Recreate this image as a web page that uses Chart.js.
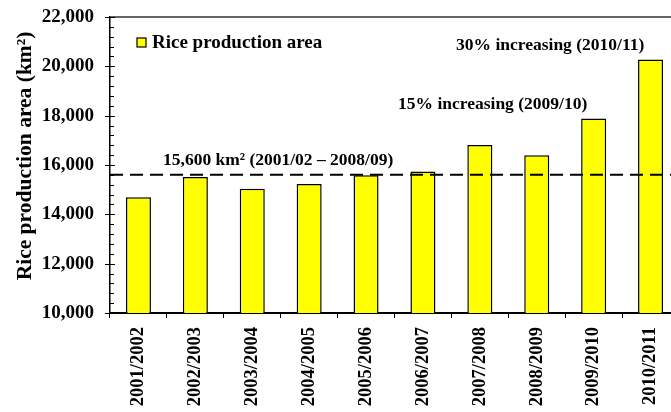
<!DOCTYPE html>
<html>
<head>
<meta charset="utf-8">
<script src="https://cdn.jsdelivr.net/npm/chart.js@4/dist/chart.umd.min.js"></script>
<style>
  html, body { margin: 0; padding: 0; background: #fff; overflow: hidden; }
  #wrap { width: 671px; height: 412px; overflow: hidden; }
  canvas { display: block; }
</style>
</head>
<body>
<div id="wrap"><canvas id="c" width="690" height="412"></canvas></div>
<script>
// Rice production area per season (km²)
const seasons = ['2001/2002', '2002/2003', '2003/2004', '2004/2005', '2005/2006',
                 '2006/2007', '2007/2008', '2008/2009', '2009/2010', '2010/2011'];
const riceArea = [14690, 15510, 15040, 15230, 15580, 15740, 16810, 16400, 17890, 20280];
const seriesName = 'Rice production area';

// Reference level: mean area 2001/02 – 2008/09
const baselineValue = 15600;
const baselineLabel = '15,600 km\u00B2 (2001/02 \u2013 2008/09)';
const notes = ['15% increasing (2009/10)', '30% increasing (2010/11)'];

// Y axis range and ticks
const yMin = 10000, yMax = 22000, yStep = 2000, yMinorStep = 400;
const yTitle = 'Rice production area (km\u00B2)';

const FONT = '"Liberation Serif", "Times New Roman", serif';

const decorations = {
  id: 'decorations',
  afterDatasetsDraw(chart) {
    const { ctx, chartArea: ca, scales: { y } } = chart;
    ctx.save();

    // top frame line
    ctx.strokeStyle = '#333';
    ctx.lineWidth = 1.5;
    ctx.beginPath();
    ctx.moveTo(ca.left, ca.top);
    ctx.lineTo(chart.width, ca.top);
    ctx.stroke();

    // y axis tick marks: majors cross the axis, minors point inward
    ctx.strokeStyle = '#000';
    ctx.lineWidth = 1;
    for (let v = yMin; v <= yMax; v += yMinorStep) {
      const py = Math.round(y.getPixelForValue(v)) + 0.5;
      const major = (v - yMin) % yStep === 0;
      ctx.beginPath();
      ctx.moveTo(major ? ca.left - 5 : ca.left, py);
      ctx.lineTo(ca.left + (major ? 5 : 4), py);
      ctx.stroke();
    }

    // dashed reference line
    const by = y.getPixelForValue(baselineValue);
    ctx.strokeStyle = '#000';
    ctx.lineWidth = 2;
    ctx.setLineDash([13, 7]);
    ctx.beginPath();
    ctx.moveTo(ca.left, by);
    ctx.lineTo(chart.width, by);
    ctx.stroke();
    ctx.setLineDash([]);

    // annotations
    ctx.fillStyle = '#000';
    ctx.font = 'bold 17.5px ' + FONT;
    ctx.textAlign = 'left';
    ctx.textBaseline = 'alphabetic';
    ctx.fillText(baselineLabel, ca.left + 53, by - 10);
    ctx.fillText(notes[0], ca.left + 288, ca.top + 92);
    ctx.fillText(notes[1], ca.left + 346, ca.top + 33);

    // legend
    const lx = ca.left + 27, ly = ca.top + 21;
    ctx.fillStyle = '#ffff00';
    ctx.fillRect(lx, ly, 9, 9);
    ctx.strokeStyle = '#000';
    ctx.lineWidth = 1.2;
    ctx.strokeRect(lx, ly, 9, 9);
    ctx.fillStyle = '#000';
    ctx.font = 'bold 19px ' + FONT;
    ctx.textBaseline = 'middle';
    ctx.fillText(chart.data.datasets[0].label, lx + 15, ly + 5);

    // y axis title
    ctx.save();
    ctx.translate(25, (ca.top + ca.bottom) / 2 - 9);
    ctx.rotate(-Math.PI / 2);
    ctx.textAlign = 'center';
    ctx.textBaseline = 'middle';
    ctx.font = 'bold 21.5px ' + FONT;
    ctx.fillText(yTitle, 0, 0);
    ctx.restore();

    ctx.restore();
  }
};

new Chart(document.getElementById('c'), {
  type: 'bar',
  data: {
    labels: seasons,
    datasets: [{
      label: seriesName,
      data: riceArea,
      backgroundColor: '#ffff00',
      borderColor: '#000',
      borderWidth: 1.5,
      barPercentage: 0.44,
      categoryPercentage: 1.0
    }]
  },
  options: {
    responsive: false,
    animation: false,
    events: [],
    layout: { padding: { top: 17, right: 11, left: 0, bottom: 0 } },
    plugins: { legend: { display: false }, tooltip: { enabled: false } },
    scales: {
      x: {
        grid: { display: true, drawOnChartArea: false, drawTicks: true, tickLength: 5, color: '#000', offset: true },
        border: { display: true, color: '#000', width: 2 },
        ticks: {
          color: '#000',
          font: { family: FONT, size: 18.5, weight: 'bold' },
          minRotation: 90, maxRotation: 90,
          autoSkip: false,
          padding: 9
        },
        afterFit(scale) { scale.height = 99; }
      },
      y: {
        min: yMin, max: yMax,
        grid: { display: true, drawOnChartArea: false, drawTicks: true, tickLength: 11, color: 'rgba(0,0,0,0)' },
        border: { display: true, color: '#000', width: 1.5 },
        ticks: {
          stepSize: yStep,
          color: '#000',
          font: { family: FONT, size: 19, weight: 'bold' },
          padding: 5,
          callback: v => v.toLocaleString('en-US')
        },
        afterFit(scale) { scale.width = 110; }
      }
    }
  },
  plugins: [decorations]
});
</script>
</body>
</html>
